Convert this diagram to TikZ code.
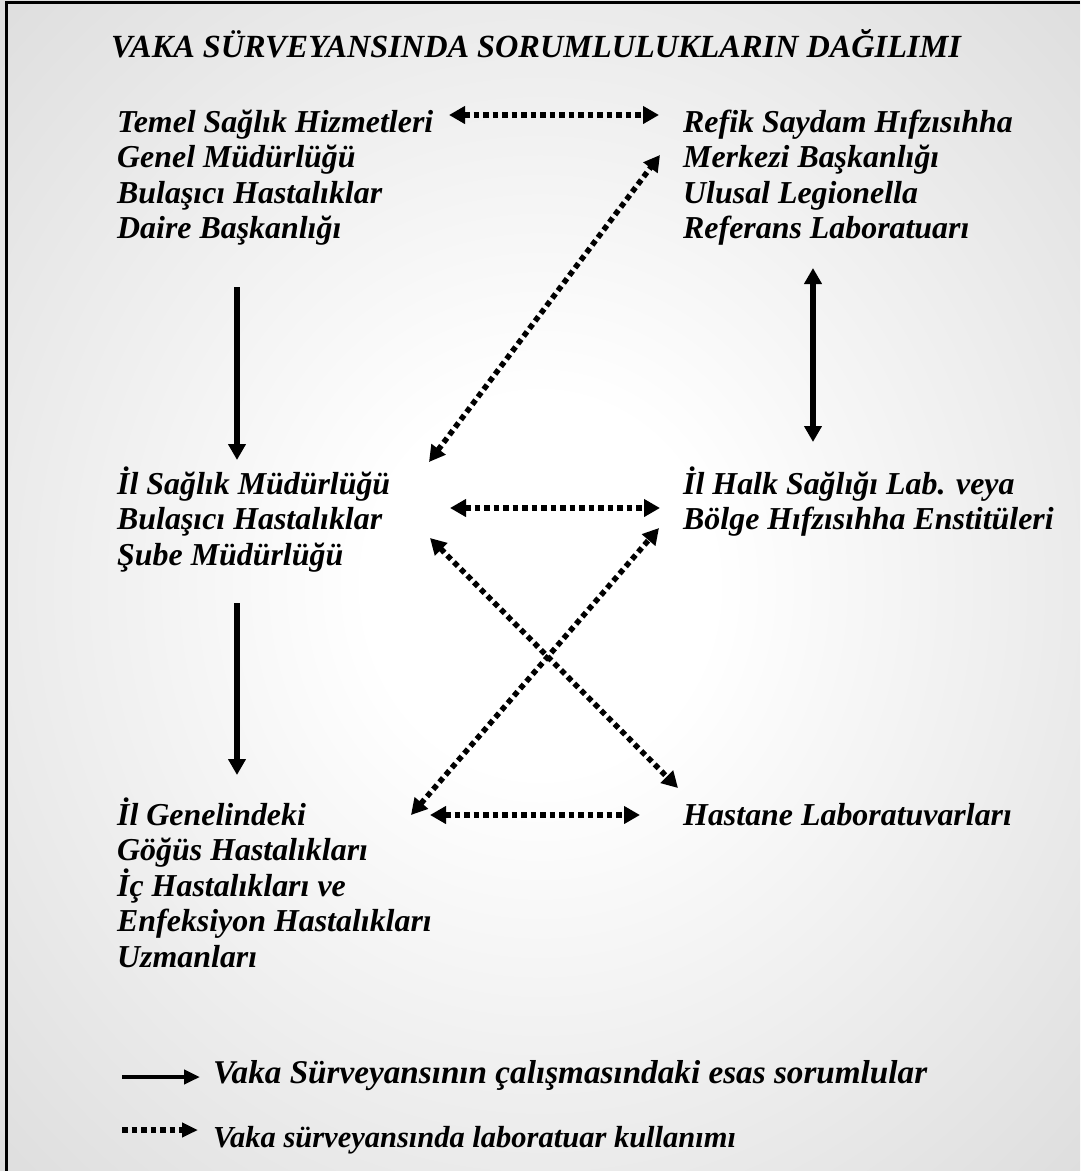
\documentclass[tikz,border=0pt]{standalone}
\usepackage{fontspec}
\setmainfont{Liberation Serif}
\usetikzlibrary{arrows.meta, calc}

\pgfdeclareradialshading{bgglow}{\pgfpoint{0bp}{0bp}}{color(0bp)=(white); color(8bp)=(white); color(44bp)=(black!17); color(72bp)=(black!17)}

\begin{document}
\begin{tikzpicture}[
  x=1pt, y=-1pt,
  >={Triangle[length=16pt, width=17pt]},
  lbl/.style={inner sep=0pt, anchor=base west, align=left,
              font=\fontsize{31.9}{35.5}\selectfont\bfseries\itshape},
  arrow/.style={->, line width=5.5pt},
  dotarrow/.style={<->, line width=5.5pt, dash pattern=on 5.5pt off 4pt},
]
  \useasboundingbox (0,0) rectangle (1080,1171);
  \shade[shading=bgglow] (0,0) rectangle (1080,1171);
  \draw[line width=3pt] (1080,2) -- (6.5,2) -- (6.5,1171);

  \node[lbl, anchor=base, font=\fontsize{32.3}{35.5}\selectfont\bfseries\itshape] (title) at (536,57) {VAKA SÜRVEYANSINDA SORUMLULUKLARIN DAĞILIMI};

  \node[lbl] (tsh) at (117,238.5) {Temel Sağlık Hizmetleri\\Genel Müdürlüğü\\Bulaşıcı Hastalıklar\\Daire Başkanlığı};
  \node[lbl] (rsh) at (683,238.5) {Refik Saydam Hıfzısıhha\\Merkezi Başkanlığı\\Ulusal Legionella\\Referans Laboratuarı};
  \node[lbl] (ism) at (117,565) {İl Sağlık Müdürlüğü\\Bulaşıcı Hastalıklar\\Şube Müdürlüğü};
  \node[lbl] (ihs) at (683,529.5) {İl Halk Sağlığı Lab. veya\\Bölge Hıfzısıhha Enstitüleri};
  \node[lbl] (igh) at (117,967) {İl Genelindeki\\Göğüs Hastalıkları\\İç Hastalıkları ve\\Enfeksiyon Hastalıkları\\Uzmanları};
  \node[lbl] (hl) at (683,825) {Hastane Laboratuvarları};

  \draw[dotarrow] ([shift={(332,-123.5)}]tsh.base west) -- ([shift={(-24,-123.5)}]rsh.base west);
  \draw[dotarrow] ([shift={(312,-103)}]ism.base west) -- ([shift={(-23,-83.5)}]rsh.base west);
  \draw[arrow, <->] ([shift={(130,29.5)}]rsh.base west) -- ([shift={(130,-87.5)}]ihs.base west);
  \draw[arrow] ([shift={(120,48.5)}]tsh.base west) -- ([shift={(120,-105)}]ism.base west);
  \draw[dotarrow] ([shift={(333,-57)}]ism.base west) -- ([shift={(-23,-21.5)}]ihs.base west);
  \draw[dotarrow] ([shift={(313,-27)}]ism.base west) -- ([shift={(-5,-37)}]hl.base west);
  \draw[dotarrow] ([shift={(294,-152)}]igh.base west) -- ([shift={(-24,-1.5)}]ihs.base west);
  \draw[dotarrow] ([shift={(313,-152)}]igh.base west) -- ([shift={(-43,-10)}]hl.base west);
  \draw[arrow] ([shift={(120,38)}]ism.base west) -- ([shift={(120,-192)}]igh.base west);

  \node[lbl, font=\fontsize{33.2}{35.5}\selectfont\bfseries\itshape] (leg1) at (213,1083) {Vaka Sürveyansının çalışmasındaki esas sorumlular};
  \node[lbl, font=\fontsize{30.5}{35.5}\selectfont\bfseries\itshape] (leg2) at (213,1147) {Vaka sürveyansında laboratuar kullanımı};
  \draw[arrow, line width=4.5pt, -{Triangle[length=16pt, width=14pt]}] ([shift={(-91,-6)}]leg1.base west) -- ([shift={(-13,-6)}]leg1.base west);
  \draw[dotarrow, -{Triangle[length=16pt, width=14pt]}] ([shift={(-91,-17)}]leg2.base west) -- ([shift={(-15,-17)}]leg2.base west);
\end{tikzpicture}
\end{document}
